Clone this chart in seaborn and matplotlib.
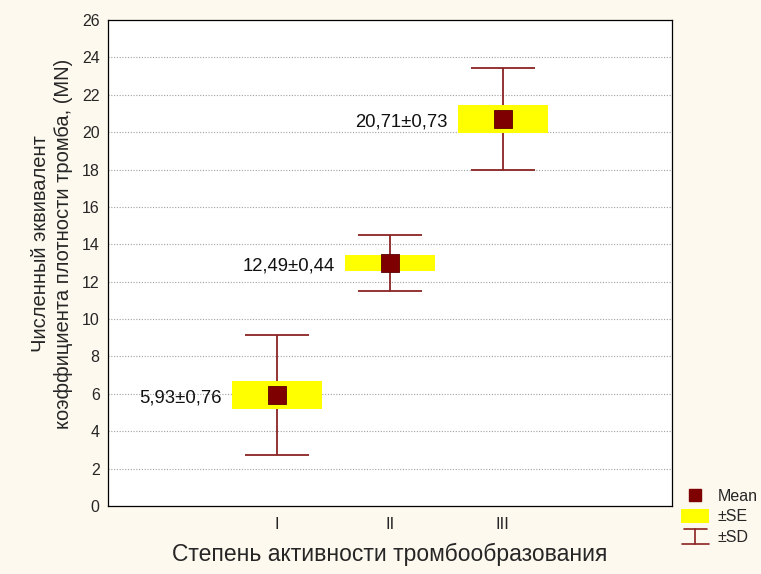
import matplotlib
matplotlib.use("Agg")
import matplotlib.pyplot as plt
from matplotlib.lines import Line2D
from matplotlib.patches import Patch
from matplotlib.legend_handler import HandlerBase
import seaborn as sns
import pandas as pd

# ---- data ----
categories = ["I", "II", "III"]
means = [5.93, 13.0, 20.71]
se = [0.76, 0.44, 0.73]
sd = [3.22, 1.52, 2.75]
value_labels = ["5,93±0,76", "12,49±0,44", "20,71±0,73"]
y_ticks = list(range(0, 27, 2))

sns.set_theme(style="white")
plt.rcParams["font.family"] = ["Liberation Sans", "DejaVu Sans"]

bg = "#fdf9ee"
dark = "#7f0000"
whisk = "#8b2323"


class SDHandle:
    pass


class HandlerSD(HandlerBase):
    def create_artists(self, legend, orig_handle, xdescent, ydescent,
                       width, height, fontsize, trans):
        x0 = -xdescent
        y0 = -ydescent
        cx = x0 + width / 2
        top = y0 + height
        bot = y0
        kw = dict(color=whisk, linewidth=1.2, transform=trans)
        return [
            Line2D([cx - width * 0.4, cx + width * 0.4], [top, top], **kw),
            Line2D([cx, cx], [bot, top], **kw),
            Line2D([cx - width * 0.48, cx + width * 0.48], [bot, bot], **kw),
        ]


fig = plt.figure(figsize=(7.61, 5.74), dpi=100, facecolor=bg)
ax = fig.add_axes([0.142, 0.1185, 0.741, 0.8465])
ax.set_facecolor("white")

pos = [1, 2, 3]
df = pd.DataFrame({"x": pos, "mean": means, "se": se, "sd": sd, "cat": categories})

# SD whiskers
ax.errorbar(df["x"], df["mean"], yerr=df["sd"], fmt="none", ecolor=whisk,
            elinewidth=1.3, capsize=32 * 0.72, capthick=1.3, zorder=2)
# SE boxes
ax.bar(df["x"], 2 * df["se"], bottom=df["mean"] - df["se"], width=0.8,
       color="#ffff00", edgecolor="none", zorder=3)
# means
sns.scatterplot(data=df, x="x", y="mean", marker="s", s=150, color=dark,
                edgecolor="#5a0000", linewidth=0.6, ax=ax, zorder=4, legend=False)

for x, m, t in zip(pos, means, value_labels):
    ax.text(x - 0.49, m - 0.15, t, ha="right", va="center", fontsize=13.3,
            color="#111111")

ax.set_xlim(-0.5, 4.5)
ax.set_ylim(0, 26)
ax.set_xticks([0, 1, 2, 3, 4])
ax.set_xticklabels([""] + categories + [""], fontsize=12)
ax.set_yticks(y_ticks)
ax.set_yticklabels([str(v) for v in y_ticks], fontsize=11.5)
ax.tick_params(axis="x", direction="in", length=5, width=0.8, color="black", pad=8)
ax.tick_params(axis="y", direction="out", length=4, width=0.8, color="#888888", pad=2)
for v in y_ticks[1:-1]:
    ax.axhline(v, color="#a0a0a0", linestyle=(0, (1, 1.5)), linewidth=0.8, zorder=1)
for s in ax.spines.values():
    s.set_color("black")
    s.set_linewidth(0.9)

ax.set_xlabel("Степень активности тромбообразования", fontsize=16.5, labelpad=8)
ax.set_ylabel("Численный эквивалент\nкоэффициента плотности тромба, (MN)",
              fontsize=14.5, linespacing=1.25)
ax.yaxis.set_label_coords(-0.062, 0.54)

handles = [
    Line2D([], [], marker="s", color=dark, linestyle="none", markersize=9),
    Patch(facecolor="#ffff00", edgecolor="none"),
    SDHandle(),
]
fig.legend(handles, ["Mean", "±SE", "±SD"], loc="upper left",
           bbox_to_anchor=(0.885, 0.163), frameon=False,
           prop={"size": 11.5}, handlelength=1.75, handleheight=1.0,
           handletextpad=0.5, labelspacing=0.3, borderpad=0,
           handler_map={SDHandle: HandlerSD()})

fig.savefig("out.png", dpi=100, facecolor=bg)
